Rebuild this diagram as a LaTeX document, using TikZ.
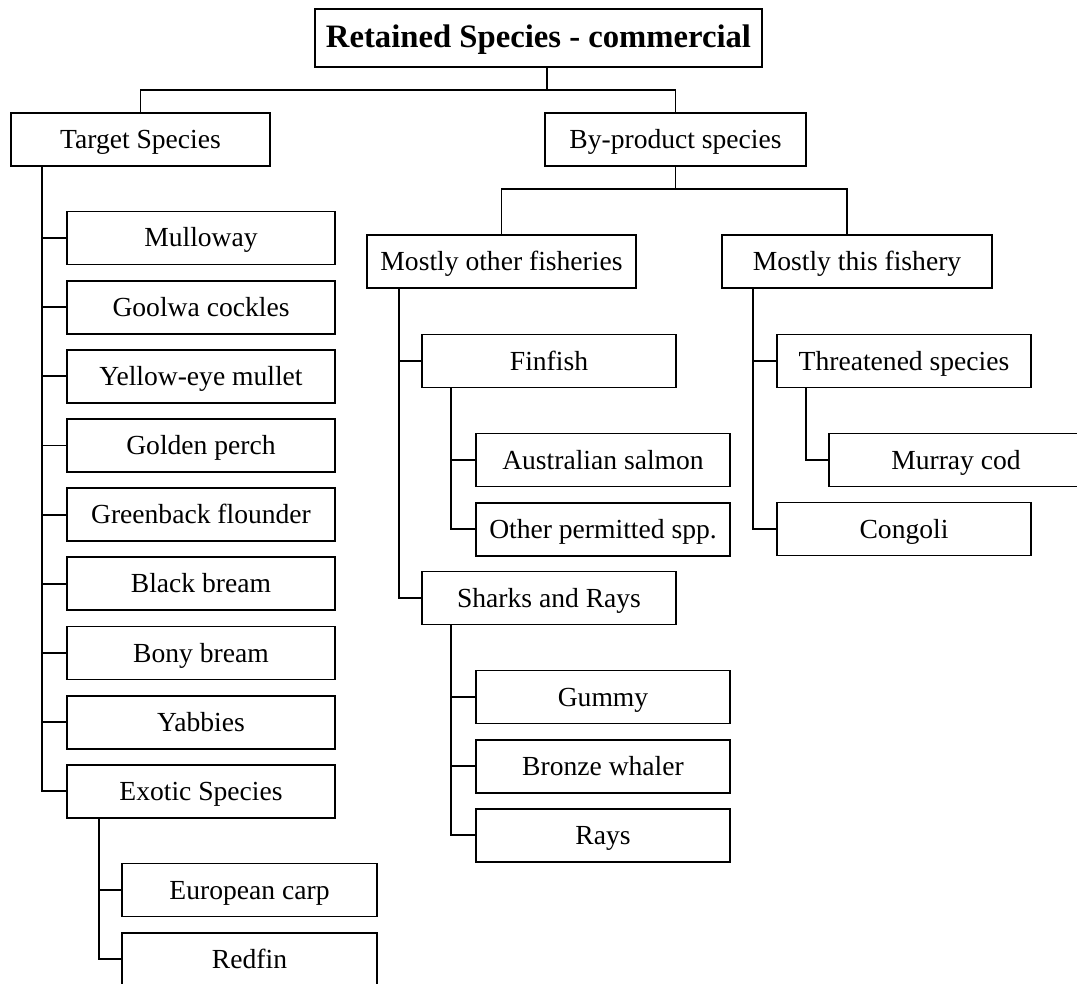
\documentclass[tikz,border=0pt]{standalone}
\usepackage{fontspec}
\setmainfont{Liberation Serif}
\usetikzlibrary{positioning,calc}

\begin{document}
\begin{tikzpicture}[
    x=0.02cm, y=-0.02cm,
    node distance=0.285cm,
    every node/.style={font=\fontsize{15.7}{18}\selectfont},
    block/.style={rectangle, draw=black, line width=1.1pt, minimum width=5.08cm, minimum height=1.06cm, inner sep=0pt, text height=0.46cm, text depth=0.1cm, text centered},
    wideblock/.style={block, minimum width=5.36cm},
    line/.style={line width=1.1pt}
]
\useasboundingbox (0,0) rectangle (1077,983);
\clip (0,0) rectangle (1077,983);

\node[block, minimum width=8.94cm, minimum height=1.16cm, text height=0.52cm, text depth=0.12cm, font=\fontsize{18.6}{21}\selectfont\bfseries] (title) at (538.5,38) {Retained Species - commercial};
\node[block, minimum width=5.18cm] (target) at (140.5,139.5) {Target Species};
\node[block, minimum width=5.22cm] (byprod) at (675.5,139.5) {By-product species};

\node[wideblock] (mulloway) at (201,238) {Mulloway};
\node[wideblock, below=of mulloway] (goolwa) {Goolwa cockles};
\node[wideblock, below=of goolwa] (yellow) {Yellow-eye mullet};
\node[wideblock, below=of yellow] (golden) {Golden perch};
\node[wideblock, below=of golden] (greenback) {Greenback flounder};
\node[wideblock, below=of greenback] (black) {Black bream};
\node[wideblock, below=of black] (bony) {Bony bream};
\node[wideblock, below=of bony] (yabbies) {Yabbies};
\node[wideblock, below=of yabbies] (exotic) {Exotic Species};
\node[block, minimum width=5.1cm] (carp) at (249.5,890) {European carp};
\node[block, minimum width=5.1cm, below=of carp] (redfin) {Redfin};

\node[block, minimum width=5.38cm] (mother) at (501.5,261.5) {Mostly other fisheries};
\node[block, minimum width=5.4cm] (mthis) at (857,261.5) {Mostly this fishery};

\node[block] (finfish) at (549,361) {Finfish};
\node[block] (salmon) at (603,460) {Australian salmon};
\node[block, below=of salmon] (permitted) {Other permitted spp.};
\node[block] (sharks) at (549,598) {Sharks and Rays};
\node[block] (gummy) at (603,697) {Gummy};
\node[block, below=of gummy] (bronze) {Bronze whaler};
\node[block, below=of bronze] (rays) {Rays};

\node[block] (threat) at (904,361) {Threatened species};
\node[block] (murray) at (956,460) {Murray cod};
\node[block] (congoli) at (904,529) {Congoli};

\coordinate (split) at (547,90);
\draw[line] (title.south -| split) -- (split);
\draw[line] (target.north) |- (split) -| (byprod.north);

\coordinate (ttrunk) at ([xshift=0.64cm]target.south west);
\draw[line] (ttrunk) |- (exotic.west);
\draw[line] (mulloway.west) -- (mulloway.west -| ttrunk);
\draw[line] (goolwa.west) -- (goolwa.west -| ttrunk);
\draw[line] (yellow.west) -- (yellow.west -| ttrunk);
\draw[line] (golden.west) -- (golden.west -| ttrunk);
\draw[line] (greenback.west) -- (greenback.west -| ttrunk);
\draw[line] (black.west) -- (black.west -| ttrunk);
\draw[line] (bony.west) -- (bony.west -| ttrunk);
\draw[line] (yabbies.west) -- (yabbies.west -| ttrunk);

\coordinate (etrunk) at ([xshift=0.66cm]exotic.south west);
\draw[line] (etrunk) |- (redfin.west);
\draw[line] (carp.west) -- (carp.west -| etrunk);

\coordinate (split2) at (675.5,189);
\draw[line] (byprod.south) -- (split2);
\draw[line] (mother.north) |- (split2) -| ([xshift=-0.2cm]mthis.north);

\coordinate (otrunk) at ([xshift=0.66cm]mother.south west);
\draw[line] (otrunk) |- (sharks.west);
\draw[line] (finfish.west) -- (finfish.west -| otrunk);

\coordinate (ftrunk) at ([xshift=0.6cm]finfish.south west);
\draw[line] (ftrunk) |- (permitted.west);
\draw[line] (salmon.west) -- (salmon.west -| ftrunk);

\coordinate (strunk) at ([xshift=0.6cm]sharks.south west);
\draw[line] (strunk) |- (rays.west);
\draw[line] (gummy.west) -- (gummy.west -| strunk);
\draw[line] (bronze.west) -- (bronze.west -| strunk);

\coordinate (htrunk) at ([xshift=0.64cm]mthis.south west);
\draw[line] (htrunk) |- (congoli.west);
\draw[line] (threat.west) -- (threat.west -| htrunk);

\coordinate (ctrunk) at ([xshift=0.6cm]threat.south west);
\draw[line] (ctrunk) |- (murray.west);
\end{tikzpicture}
\end{document}
